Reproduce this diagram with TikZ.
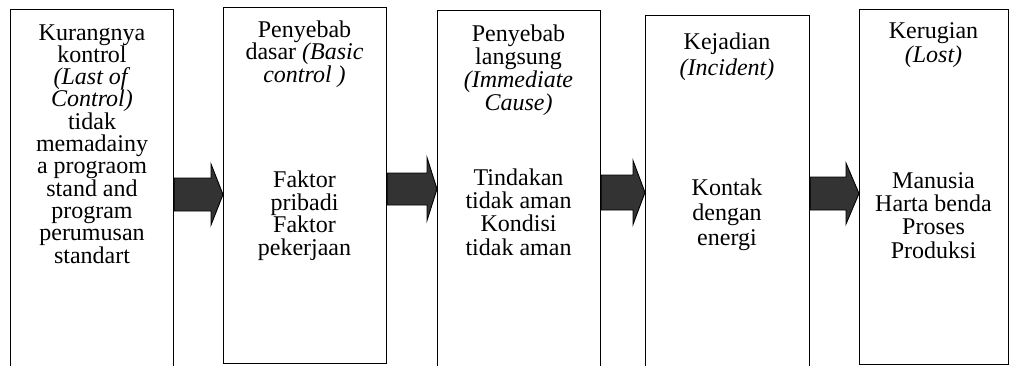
\documentclass[tikz,border=0pt]{standalone}
\usepackage{fontspec}
\setmainfont{Liberation Serif}
\usetikzlibrary{calc}
\tikzset{
  box/.style={draw=black, line width=1.1pt, rectangle, inner sep=0pt, anchor=north west},
  lbl/.style={align=center, inner sep=0pt, anchor=base, font=\fontsize{24}{#1}\selectfont},
  lbl/.default=23,
  blk/.style={draw=black, line width=0.9pt, fill=black!80, line join=miter}
}
% #1 from node, #2 to node, #3 centre y (px), #4 shaft half, #5 head half, #6 head length
\newcommand\blockarrow[6]{%
  \filldraw[blk] let \p1=(#1.east), \p2=(#2.west) in
    (\x1,{(-#3+#4)*1pt}) -- ({\x2-#6pt},{(-#3+#4)*1pt}) -- ({\x2-#6pt},{(-#3+#5)*1pt})
    -- (\x2,{-#3*1pt}) -- ({\x2-#6pt},{(-#3-#5)*1pt}) -- ({\x2-#6pt},{(-#3-#4)*1pt})
    -- (\x1,{(-#3-#4)*1pt}) -- cycle;}
\begin{document}
\begin{tikzpicture}[x=1pt,y=1pt]
\useasboundingbox (0,0) rectangle (1010,-365);
\fill[white] (0,0) rectangle (1010,-365);
% boxes
\node[box, minimum width=163pt, minimum height=372pt] (b1) at (10,-9) {};
\node[box, minimum width=163pt, minimum height=356pt] (b2) at (223,-7) {};
\node[box, minimum width=163pt, minimum height=370pt] (b3) at (437,-10) {};
\node[box, minimum width=164pt, minimum height=365pt] (b4) at (645,-15) {};
\node[box, minimum width=149pt, minimum height=355pt] (b5) at (859,-9) {};
% texts (anchor base = baseline of the last line)
\node[lbl=22.3] (t1) at (92,-263) {Kurangnya\\kontrol\\\textit{(Last of}\\\textit{Control)}\\tidak\\memadainy\\a prograom\\stand and\\program\\perumusan\\standart};
\node[lbl=22.5] (t2a) at (304.5,-82) {Penyebab\\dasar \textit{(Basic}\\\textit{control )}};
\node[lbl=22.5] (t2b) at (304.5,-255) {Faktor\\pribadi\\Faktor\\pekerjaan};
\node[lbl=23] (t3a) at (518.5,-110) {Penyebab\\langsung\\\textit{(Immediate}\\\textit{Cause)}};
\node[lbl=23.3] (t3b) at (518.5,-255) {Tindakan\\tidak aman\\Kondisi\\tidak aman};
\node[lbl=26] (t4a) at (727,-75) {Kejadian\\\textit{(Incident)}};
\node[lbl=25] (t4b) at (727,-245) {Kontak\\dengan\\energi};
\node[lbl=24] (t5a) at (933.5,-62) {Kerugian\\\textit{(Lost)}};
\node[lbl=23.3] (t5b) at (933.5,-258) {Manusia\\Harta benda\\Proses\\Produksi};
% arrows
\blockarrow{b1}{b2}{194.5}{16.5}{30.5}{12}
\blockarrow{b2}{b3}{189}{16}{31.5}{10}
\blockarrow{b3}{b4}{192.5}{17.5}{32}{12}
\blockarrow{b4}{b5}{193.5}{16.5}{30.5}{13}
\end{tikzpicture}
\end{document}
